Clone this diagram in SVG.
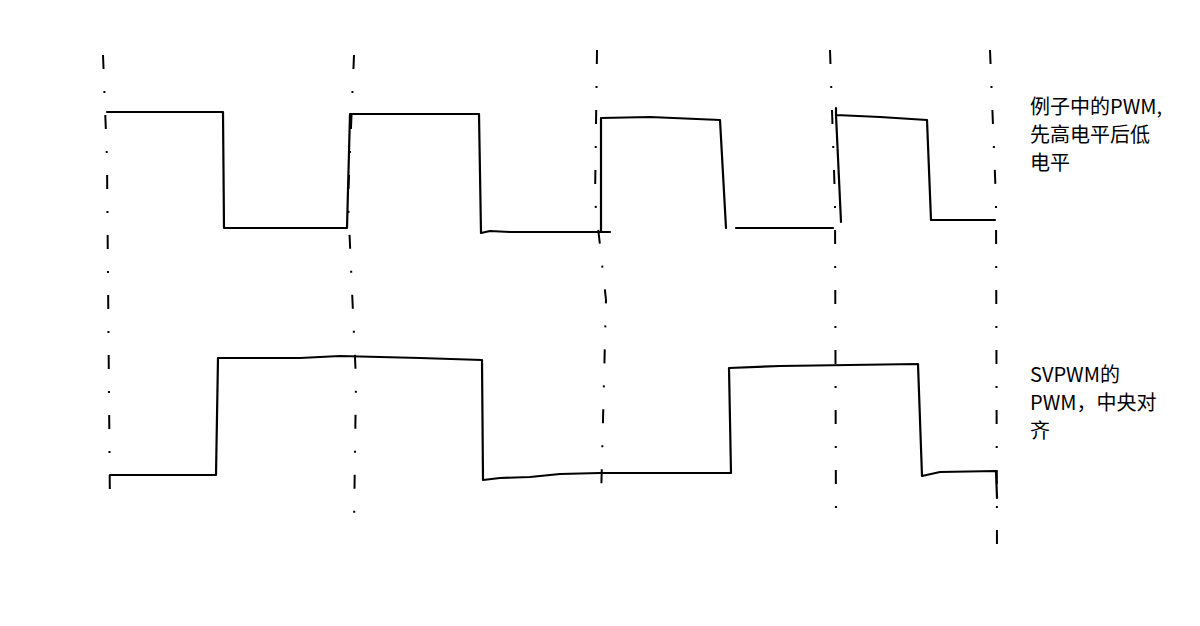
<svg xmlns="http://www.w3.org/2000/svg" width="1200" height="626" viewBox="0 0 1200 626">
<style>
.w{fill:none;stroke:#000;stroke-width:2.2;stroke-linejoin:round;stroke-linecap:round}
.d{fill:none;stroke:#000;stroke-width:2;stroke-dasharray:14 22 2 22}
.t{font-family:"Noto Sans CJK SC","Noto Sans",sans-serif;font-size:20px;fill:#000}
</style>
<rect width="1200" height="626" fill="#fff"/>
<g id="guides">
<path class="d" d="M103 55 L107 160 L110 510"/>
<path class="d" d="M354 55 L348 200 L356 380 L354 525"/>
<path class="d" d="M597 50 L595 200 L606 300 L601 500"/>
<path class="d" d="M830 50 L835 200 L836 530"/>
<path class="d" d="M990 50 L996 200 L997 555"/>
</g>
<g id="top-wave">
<path class="w" d="M107 112 L223 112 L224 228 L347 228 L350 114 L479 114 L481 233 L490 231 L510 232 L610 232 M601 232 L601 118 L650 117 L720 120 L726 228 M736 228 L833 228 M836 108 L836 115 L880 117 L927 120 L931 220 L995 220 M836 115 L841 222"/>
</g>
<g id="bottom-wave">
<path class="w" d="M110 475 L216 475 L218 358 L300 358 L340 356 L420 358 L482 360 L483 480 L500 478 L530 477 L560 474 L600 473 L731 473 L729 368 L780 366 L918 364 L922 476 L940 472 L996 471 L997 498"/>
</g>
<g id="label-top">
<text class="t" x="1030" y="114">例子中的PWM,</text>
<text class="t" x="1030" y="142">先高电平后低</text>
<text class="t" x="1030" y="170">电平</text>
</g>
<g id="label-bottom">
<text class="t" x="1030" y="382">SVPWM的</text>
<text class="t" x="1030" y="410">PWM，中央对</text>
<text class="t" x="1030" y="438">齐</text>
</g>
</svg>
